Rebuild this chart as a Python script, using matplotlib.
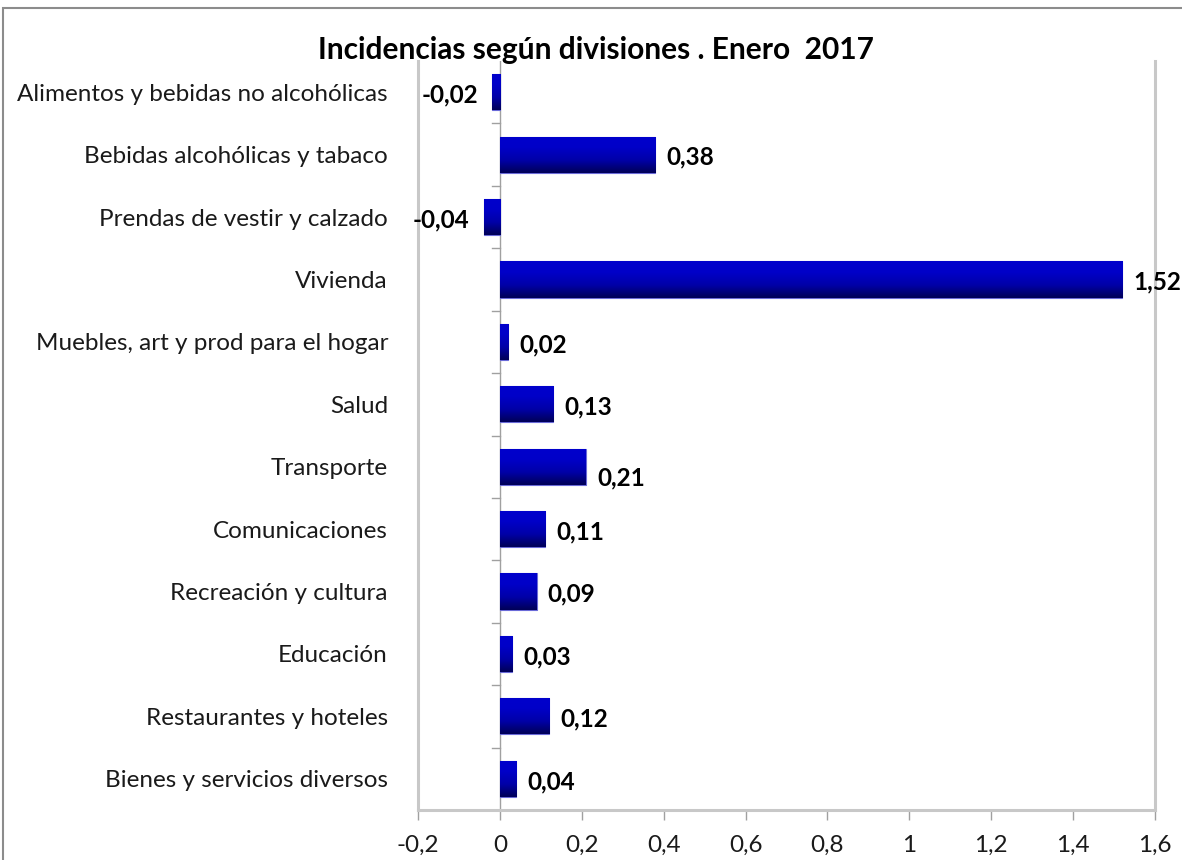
import numpy as np
import matplotlib
matplotlib.use('Agg')
import matplotlib.pyplot as plt
from matplotlib.colors import LinearSegmentedColormap
from matplotlib.patches import Rectangle

# Datos
divisiones = ['Alimentos y bebidas no alcohólicas', 'Bebidas alcohólicas y tabaco',
              'Prendas de vestir y calzado', 'Vivienda', 'Muebles, art y prod para el hogar',
              'Salud', 'Transporte', 'Comunicaciones', 'Recreación y cultura',
              'Educación', 'Restaurantes y hoteles', 'Bienes y servicios diversos']
incidencias = [-0.02, 0.38, -0.04, 1.52, 0.02, 0.13, 0.21, 0.11, 0.09, 0.03, 0.12, 0.04]
xticks = [-0.2, 0, 0.2, 0.4, 0.6, 0.8, 1, 1.2, 1.4, 1.6]
titulo = 'Incidencias según divisiones . Enero  2017'

plt.rcParams['font.family'] = ['Lato', 'DejaVu Sans']

fig = plt.figure(figsize=(11.82, 8.6), dpi=100)
ax = fig.add_axes([418/1182, 1 - 810/860, (1155-418)/1182, (810-61)/860])

n = len(divisiones)
y = np.arange(n)[::-1]
h = 0.58
bars = ax.barh(y, incidencias, height=h, color='#0000c0', edgecolor='#6a6ad8', linewidth=0.8, zorder=3)

# degradado de las barras
cmap = LinearSegmentedColormap.from_list('azul', [(0, '#000058'), (0.35, '#0000a8'), (0.7, '#0000c8'), (1, '#0000cc')])
grad = np.linspace(0, 1, 64).reshape(-1, 1)
for b in bars:
    x0, y0 = b.get_x(), b.get_y()
    im = ax.imshow(grad, extent=[x0, x0 + b.get_width(), y0, y0 + b.get_height()],
                   origin='lower', aspect='auto', cmap=cmap, zorder=3.5, interpolation='bicubic')
    im.set_clip_path(b)

# etiquetas de valores
for yi, v in zip(y, incidencias):
    txt = f'{v:.2f}'.replace('.', ',')
    dy = -8 if abs(v - 0.21) < 1e-9 else -2
    if v >= 0:
        ax.annotate(txt, (v, yi), xytext=(8, dy), textcoords='offset points', ha='left', va='center',
                    fontsize=17.5, fontweight='bold', color='#000000', annotation_clip=False)
    else:
        ax.annotate(txt, (v, yi), xytext=(-10, dy), textcoords='offset points', ha='right', va='center',
                    fontsize=17.5, fontweight='bold', color='#000000', annotation_clip=False)

ax.set_xlim(-0.2, 1.6)
ax.set_ylim(-0.5, n - 0.5)
ax.set_xticks(xticks)
ax.set_xticklabels([f'{t:g}'.replace('.', ',') for t in xticks], fontsize=17.5, color='#1a1a1a')
ax.set_yticks(y)
ax.set_yticklabels(divisiones, fontsize=17.5, color='#1a1a1a')
ax.tick_params(axis='y', length=0, pad=21.6)
ax.tick_params(axis='x', length=7, width=1, color='#a0a0a0', direction='out', pad=11)

for s in ['top']:
    ax.spines[s].set_visible(False)
for s in ['left', 'right', 'bottom']:
    ax.spines[s].set_color('#c8c8c8')
    ax.spines[s].set_linewidth(2.2)

# eje vertical en cero con marcas entre categorías
ax.axvline(0, color='#a0a0a0', lw=1, zorder=2)
for yb in np.arange(n - 1) + 0.5:
    ax.plot([-0.02, 0], [yb, yb], color='#a0a0a0', lw=1, zorder=2, clip_on=False)

fig.text(596/1182, 1 - 50/860, titulo, ha='center', va='center', fontsize=21.5, fontweight='bold')

# marco del gráfico
fig.patches.append(Rectangle((3/1182, -0.01), 1.2, 1 - 8/860 + 0.01, transform=fig.transFigure,
                             fill=False, edgecolor='#8c8c8c', lw=1.5))

fig.savefig('out.png', dpi=100)
